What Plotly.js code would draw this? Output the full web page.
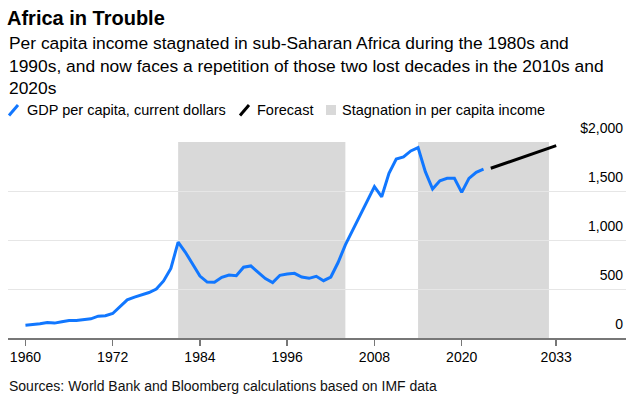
<!DOCTYPE html>
<html>
<head>
<meta charset="utf-8">
<script src="https://cdn.plot.ly/plotly-3.0.1.min.js"></script>
<style>
  html, body { margin: 0; padding: 0; background: #fff; }
  #chart { width: 635px; height: 401px; }
</style>
</head>
<body>
<div id="chart"></div>
<script>
// ---- Data ----
const years = [1960,1961,1962,1963,1964,1965,1966,1967,1968,1969,
               1970,1971,1972,1973,1974,1975,1976,1977,1978,1979,
               1980,1981,1982,1983,1984,1985,1986,1987,1988,1989,
               1990,1991,1992,1993,1994,1995,1996,1997,1998,1999,
               2000,2001,2002,2003,2004,2005,2006,2007,2008,2009,
               2010,2011,2012,2013,2014,2015,2016,2017,2018,2019,
               2020,2021,2022,2023];
const gdpPerCapita = [131,135,145,159,152,166,179,179,186,196,
                      223,227,250,320,389,417,438,464,500,582,
                      710,978,875,759,632,571,568,619,643,636,
                      722,735,667,606,565,640,653,660,622,609,
                      630,585,622,770,950,1100,1254,1407,1544,1441,
                      1680,1827,1848,1909,1943,1697,1520,1605,1629,1629,
                      1486,1629,1691,1722];
const forecastYears = [2024, 2033];
const forecastValues = [1732, 1963];
const stagnationStart = [1981, 2014];
const stagnationEnd = [2004, 2032];
const xTickVals = [1960,1972,1984,1996,2008,2020,2033];
const xTickText = ["1960","1972","1984","1996","2008","2020","2033"];
const yTickVals = [0,500,1000,1500,2000];
const yTickText = ["0","500","1,000","1,500","$2,000"];

const titleText = "Africa in Trouble";
const subtitleText = "Per capita income stagnated in sub-Saharan Africa during the 1980s and<br>1990s, and now faces a repetition of those two lost decades in the 2010s and<br>2020s";
const legendLabels = ["GDP per capita, current dollars", "Forecast", "Stagnation in per capita income"];
const sourceText = "Sources: World Bank and Bloomberg calculations based on IMF data";

// ---- Layout helpers ----
const W = 635, H = 401;
const M = {l: 8, r: 9, t: 142, b: 63};
const plotW = W - M.l - M.r, plotH = H - M.t - M.b;
const px = x => (x - M.l) / plotW;
const py = y => (M.t + plotH - y) / plotH;

const BLUE = "#1177ff";
const GRAY = "#d9d9d9";
const FONT = "Liberation Sans, Arial, sans-serif";

const traces = [
  {
    x: years, y: gdpPerCapita, type: "scatter", mode: "lines",
    line: {color: BLUE, width: 3}, hoverinfo: "skip", showlegend: false
  },
  {
    x: forecastYears, y: forecastValues, type: "scatter", mode: "lines",
    line: {color: "#000", width: 3}, hoverinfo: "skip", showlegend: false
  }
];

const shapes = [];
for (let i = 0; i < stagnationStart.length; i++) {
  shapes.push({
    type: "rect", xref: "x", yref: "y",
    x0: stagnationStart[i], x1: stagnationEnd[i], y0: 0, y1: 2000,
    fillcolor: GRAY, line: {width: 0}, layer: "below"
  });
}
// legend icons
shapes.push({type: "line", xref: "paper", yref: "paper",
  x0: px(9), y0: py(115.5), x1: px(18), y1: py(105), line: {color: BLUE, width: 3}});
shapes.push({type: "line", xref: "paper", yref: "paper",
  x0: px(240), y0: py(115.5), x1: px(249), y1: py(105), line: {color: "#000", width: 3}});
shapes.push({type: "rect", xref: "paper", yref: "paper",
  x0: px(326), y0: py(115), x1: px(336), y1: py(105), fillcolor: GRAY, line: {width: 0}});

const annotations = [
  {text: subtitleText, xref: "paper", yref: "paper", x: px(7), y: py(65.5),
   xanchor: "left", yanchor: "middle", align: "left", showarrow: false,
   font: {family: FONT, size: 17.4, color: "#000"}},
  {text: legendLabels[0], xref: "paper", yref: "paper", x: px(25), y: py(110.5),
   xanchor: "left", yanchor: "middle", showarrow: false,
   font: {family: FONT, size: 14.5, color: "#000"}},
  {text: legendLabels[1], xref: "paper", yref: "paper", x: px(255), y: py(110.5),
   xanchor: "left", yanchor: "middle", showarrow: false,
   font: {family: FONT, size: 14.5, color: "#000"}},
  {text: legendLabels[2], xref: "paper", yref: "paper", x: px(340), y: py(110.5),
   xanchor: "left", yanchor: "middle", showarrow: false,
   font: {family: FONT, size: 14.5, color: "#000"}},
  {text: sourceText, xref: "paper", yref: "paper", x: px(7), y: py(386),
   xanchor: "left", yanchor: "middle", showarrow: false,
   font: {family: FONT, size: 14, color: "#111"}}
];

const layout = {
  width: W, height: H,
  margin: M,
  paper_bgcolor: "#fff", plot_bgcolor: "#fff",
  font: {family: FONT, size: 14, color: "#000"},
  title: {text: "<b>" + titleText + "</b>", xref: "container", yref: "container",
          x: 7 / W, xanchor: "left", y: 1 - 18 / H, yanchor: "middle",
          font: {family: FONT, size: 20, color: "#000"}},
  showlegend: false,
  xaxis: {
    range: [1957.6, 2042.6], tickvals: xTickVals, ticktext: xTickText,
    showgrid: false, zeroline: false, showline: true, linecolor: "#777", linewidth: 1.5,
    ticks: "outside", ticklen: 6, tickcolor: "#777", tickwidth: 1.5,
    tickfont: {family: FONT, size: 14, color: "#000"}, fixedrange: true
  },
  yaxis: {
    range: [0, 2000], side: "right", tickvals: yTickVals, ticktext: yTickText,
    ticklabelposition: "inside top", ticklabeloverflow: "allow", ticklabelshift: -4,
    showgrid: true, gridcolor: "#e6e6e6", gridwidth: 1,
    zeroline: false, showline: false, ticks: "",
    tickfont: {family: FONT, size: 14, color: "#000"}, fixedrange: true
  },
  shapes: shapes,
  annotations: annotations
};

Plotly.newPlot("chart", traces, layout, {displayModeBar: false, staticPlot: true});
</script>
</body>
</html>
